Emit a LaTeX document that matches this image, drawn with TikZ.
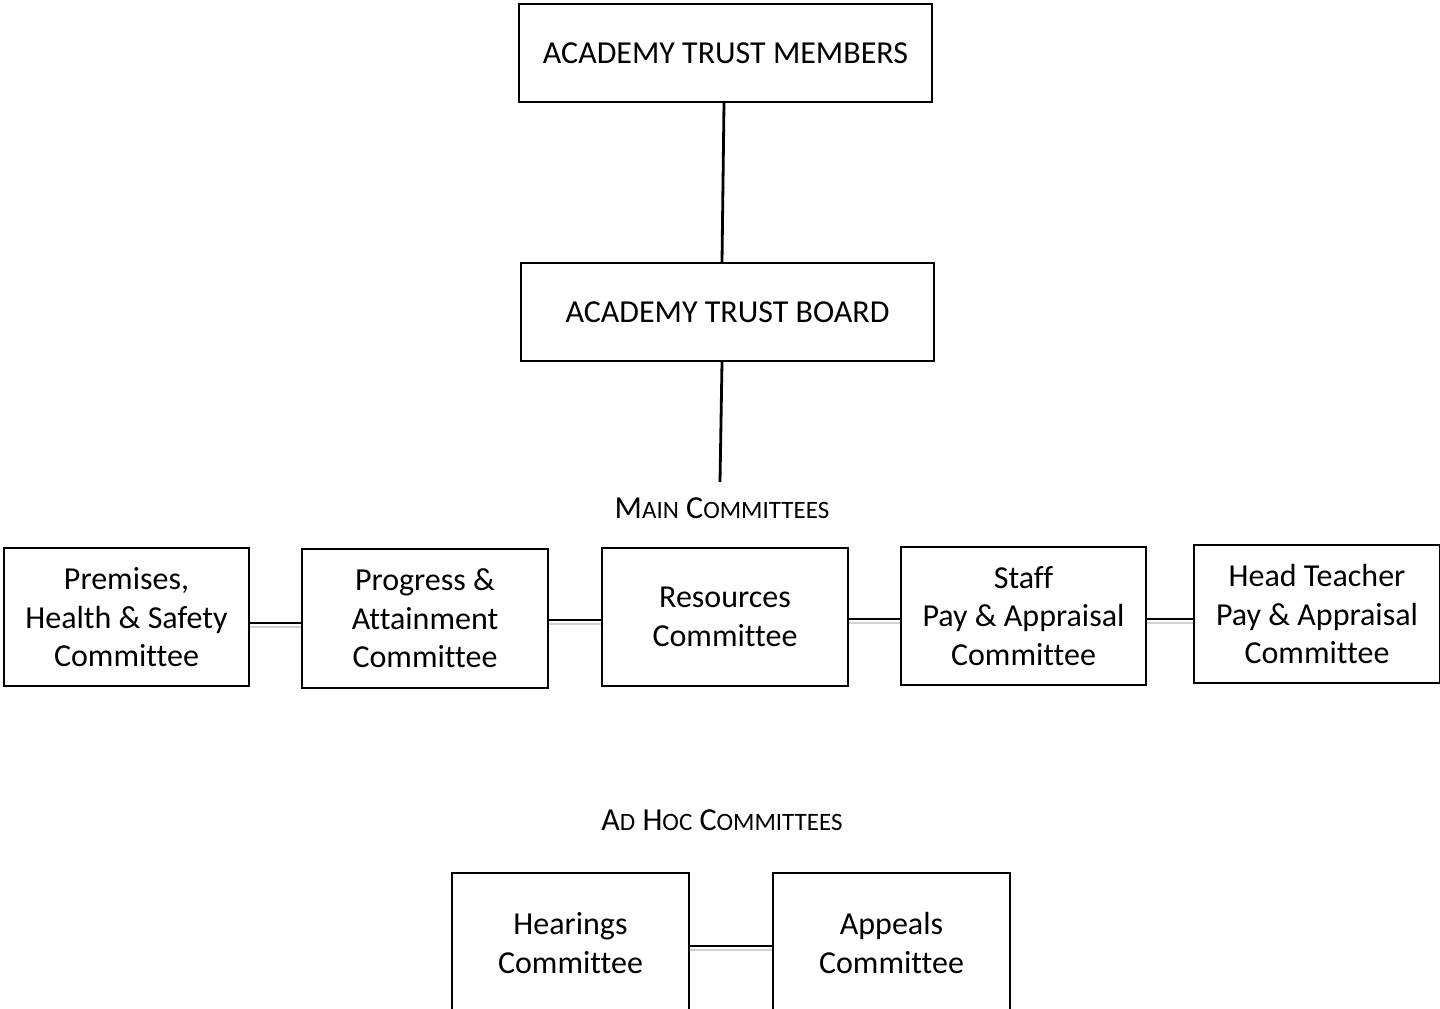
\documentclass[tikz,border=0pt]{standalone}
\usepackage{fontspec}
\setmainfont{Carlito}[Ligatures={NoCommon}]
\usetikzlibrary{calc}
\newcommand{\fsc}[2]{#1{\fontsize{25}{30}\selectfont #2}}
\tikzset{
  box/.style={draw=black, line width=2pt, fill=white, align=center, inner sep=0pt,
    font=\fontsize{32}{38.5}\selectfont},
  boxtext/.style={yshift=-1.5pt},
  link/.style={draw=black, line width=2.8pt},
  linkshadow/.style={draw=black!18, line width=2.6pt},
  lbl/.style={inner sep=0pt, font=\fontsize{32}{36}\selectfont},
}
\newcommand{\linkboxes}[3]{%
  \draw[linkshadow] ([yshift=-#3-4pt]#1.east) -- ([yshift=-#3-4pt]#1.east -| #2.west);
  \draw[link] ([yshift=-#3]#1.east) -- ([yshift=-#3]#1.east -| #2.west);}
\begin{document}
\begin{tikzpicture}[x=1pt,y=-1pt]
\useasboundingbox (0,0) rectangle (1440,1009);
\node[box, minimum width=413pt, minimum height=98pt] (mem) at (725.5,53) {ACADEMY TRUST MEMBERS};
\node[box, minimum width=413pt, minimum height=98pt] (brd) at (727.5,312) {ACADEMY TRUST BOARD};
\draw[link] ([xshift=-1.5pt]mem.south) -- ([xshift=-5.5pt]brd.north);
\coordinate (mcend) at (720,482);
\draw[link] ([xshift=-5.5pt]brd.south) -- (mcend);
\node[lbl] (mainlbl) at (722,508) {\fsc{M}{AIN} \fsc{C}{OMMITTEES}};
\node[box, minimum width=245pt, minimum height=138pt, text depth=0pt] (c1) at (126.5,617) {Premises,\\Health \& Safety\\Committee};
\node[box, minimum width=246pt, minimum height=139pt] (c2) at (425,618.5) {Progress \&\\Attainment\\Committee};
\node[box, minimum width=246pt, minimum height=138pt] (c3) at (725,617) {Resources\\Committee};
\node[box, minimum width=245pt, minimum height=138pt] (c4) at (1023.5,616) {Staff\\Pay \& Appraisal\\Committee};
\node[box, minimum width=246pt, minimum height=138pt] (c5) at (1317,614) {Head Teacher\\Pay \& Appraisal\\Committee};
\linkboxes{c1}{c2}{6pt}
\linkboxes{c2}{c3}{1.5pt}
\linkboxes{c3}{c4}{2pt}
\linkboxes{c4}{c5}{3pt}
\node[lbl] (adhoclbl) at (722,820) {\fsc{A}{D} \fsc{H}{OC} \fsc{C}{OMMITTEES}};
\node[box, minimum width=237pt, minimum height=140pt] (hear) at (570.5,943) {Hearings\\Committee};
\node[box, minimum width=237pt, minimum height=140pt] (app) at (891.5,943) {Appeals\\Committee};
\linkboxes{hear}{app}{3pt}
\end{tikzpicture}
\end{document}
